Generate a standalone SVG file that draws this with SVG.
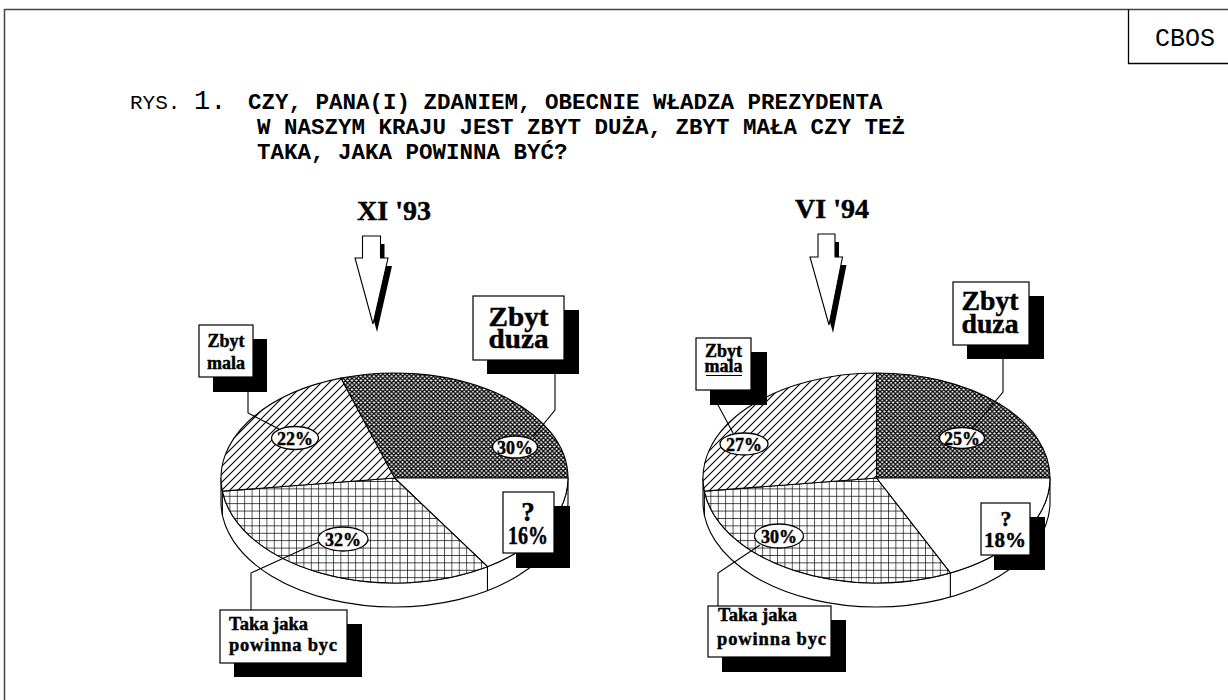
<svg xmlns="http://www.w3.org/2000/svg" width="1228" height="700" viewBox="0 0 1228 700">
<style>
.frame{stroke:#444;stroke-width:1.5;fill:none}
.ttl{font-family:"Liberation Mono","Courier New",monospace;fill:#000}
.b{font-weight:bold}
.serif{font-family:"Liberation Serif","Times New Roman",serif;font-weight:bold;fill:#000;stroke:#000;stroke-width:0.45}
.box{fill:#fff;stroke:#000;stroke-width:1.2}
.sh{fill:#000}
.ln{stroke:#000;stroke-width:1.1;fill:none}
.edge{stroke:#000;stroke-width:1.1}
.pl{fill:#fff;stroke:#000;stroke-width:1.3}
</style>
<defs>
<pattern id="hatch" width="8" height="8" patternUnits="userSpaceOnUse">
<rect width="8" height="8" fill="#fff"/>
<path d="M-2,2 L2,-2 M0,8 L8,0 M6,10 L10,6" stroke="#000" stroke-width="1.1"/>
</pattern>
<pattern id="cross" width="4.4" height="4.4" patternUnits="userSpaceOnUse">
<rect width="4.4" height="4.4" fill="#fff"/>
<path d="M-1.1,1.1 L1.1,-1.1 M0,4.4 L4.4,0 M3.3,5.5 L5.5,3.3 M-1.1,3.3 L1.1,5.5 M0,0 L4.4,4.4 M3.3,-1.1 L5.5,1.1" stroke="#000" stroke-width="1.3"/>
</pattern>
<pattern id="grid" width="7.4" height="7.4" patternUnits="userSpaceOnUse">
<rect width="7.4" height="7.4" fill="#fff"/>
<path d="M0,0 H7.4 M0,0 V7.4" stroke="#000" stroke-width="1.3"/>
</pattern>
</defs>

<g id="frame">
<path class="frame" d="M4.5,700 V9.5 H1228"/>
</g>

<g id="cbos">
<path d="M1128.5,9.5 V63.5 H1228" stroke="#000" stroke-width="1.3" fill="none"/>
<text class="ttl" x="1185" y="46" font-size="25" text-anchor="middle">CBOS</text>
</g>

<g id="title">
<text class="ttl" x="130" y="109" font-size="21">RYS.</text>
<text class="ttl" x="194" y="109" font-size="27">1.</text>
<text class="ttl b" x="248" y="109" font-size="22.5">CZY, PANA(I) ZDANIEM, OBECNIE WŁADZA PREZYDENTA</text>
<text class="ttl b" x="257" y="134" font-size="22.5">W NASZYM KRAJU JEST ZBYT DUŻA, ZBYT MAŁA CZY TEŻ</text>
<text class="ttl b" x="257" y="159" font-size="22.5">TAKA, JAKA POWINNA BYĆ?</text>
</g>

<!-- Chart 1 -->
<g id="chart1">
<text class="serif" x="394" y="220" font-size="28" text-anchor="middle">XI '93</text>
<g id="arrow1">
<polygon class="sh" points="366.5,244 384.5,244 384.5,266 392,266 377,332 359,266 366.5,266"/>
<polygon fill="#fff" stroke="#000" stroke-width="1.1" points="362.5,236 380.5,236 380.5,258 388,258 373,324 355,258 362.5,258"/>
</g>
<g id="pie1">
<path class="edge" fill="#fff" d="M221,478 L221,502 A173.5,105 0 0 0 568,502 L568,478 A173.5,105 0 0 1 221,478 Z"/>
<line class="edge" x1="487.46" y1="566.65" x2="487.46" y2="590.65"/>
<line class="edge" x1="222.37" y1="491.16" x2="222.37" y2="515.16"/>
<path id="p1-duza" class="edge" fill="url(#cross)" d="M394.5,478 L340.89,378.14 A173.5,105 0 0 1 568,478 Z"/>
<path id="p1-q" class="edge" fill="#fff" d="M394.5,478 L568,478 A173.5,105 0 0 1 487.46,566.65 Z"/>
<path id="p1-taka" class="edge" fill="url(#grid)" d="M394.5,478 L487.46,566.65 A173.5,105 0 0 1 222.37,491.16 Z"/>
<path id="p1-mala" class="edge" fill="url(#hatch)" d="M394.5,478 L222.37,491.16 A173.5,105 0 0 1 340.89,378.14 Z"/>
</g>
</g>

<!-- Chart 2 -->
<g id="chart2">
<text class="serif" x="832" y="218" font-size="28" text-anchor="middle">VI '94</text>
<g id="arrow2">
<polygon class="sh" points="822,242 839,242 839,265 846.5,265 833,333 814,265 822,265"/>
<polygon fill="#fff" stroke="#000" stroke-width="1.1" points="818,234 835,234 835,257 842.5,257 829,325 810,257 818,257"/>
</g>
<g id="pie2">
<path class="edge" fill="#fff" d="M703,478 L703,502 A173.5,105 0 0 0 1050,502 L1050,478 A173.5,105 0 0 1 703,478 Z"/>
<line class="edge" x1="950.37" y1="573.01" x2="950.37" y2="597.01"/>
<line class="edge" x1="704.37" y1="491.16" x2="704.37" y2="515.16"/>
<path id="p2-duza" class="edge" fill="url(#cross)" d="M876.5,478 L876.5,373 A173.5,105 0 0 1 1050,478 Z"/>
<path id="p2-q" class="edge" fill="#fff" d="M876.5,478 L1050,478 A173.5,105 0 0 1 950.37,573.01 Z"/>
<path id="p2-taka" class="edge" fill="url(#grid)" d="M876.5,478 L950.37,573.01 A173.5,105 0 0 1 704.37,491.16 Z"/>
<path id="p2-mala" class="edge" fill="url(#hatch)" d="M876.5,478 L704.37,491.16 A173.5,105 0 0 1 876.5,373 Z"/>
</g>
</g>

<g id="connectors">
<polyline class="ln" points="248,377 248,413 279,429"/>
<polyline class="ln" points="555,374 555,410 533,437"/>
<polyline class="ln" points="251,610 251,573 319,542"/>
<polyline class="ln" points="710,390 733,433"/>
<polyline class="ln" points="1003,359 1003,392 972,429"/>
<polyline class="ln" points="718,606 718,573 760,545"/>
</g>

<g id="pct-labels">
<g id="l22"><ellipse class="pl" cx="295" cy="438" rx="23.5" ry="11.5"/><text class="serif" x="295" y="444.5" font-size="18" text-anchor="middle">22%</text></g>
<g id="l30a"><ellipse class="pl" cx="515" cy="447" rx="22.5" ry="11"/><text class="serif" x="515" y="453.5" font-size="18" text-anchor="middle">30%</text></g>
<g id="l32"><ellipse class="pl" cx="343" cy="539" rx="25" ry="12"/><text class="serif" x="343" y="545.5" font-size="18" text-anchor="middle">32%</text></g>
<g id="l27"><ellipse class="pl" cx="744" cy="444" rx="24" ry="11"/><text class="serif" x="744" y="450.5" font-size="18" text-anchor="middle">27%</text></g>
<g id="l25"><ellipse class="pl" cx="962" cy="438" rx="22.5" ry="10.5"/><text class="serif" x="962" y="444.5" font-size="18" text-anchor="middle">25%</text></g>
<g id="l30b"><ellipse class="pl" cx="779" cy="536" rx="24.5" ry="12"/><text class="serif" x="779" y="542.5" font-size="18" text-anchor="middle">30%</text></g>
</g>

<g id="zm1">
<rect class="sh" x="213" y="339" width="54" height="53"/>
<rect class="box" x="199" y="325" width="54" height="52"/>
<text class="serif" x="226" y="347" font-size="18" text-anchor="middle">Zbyt</text>
<text class="serif" x="226" y="369" font-size="18" text-anchor="middle">mala</text>
</g>
<g id="zd1">
<rect class="sh" x="487" y="310" width="92" height="64"/>
<rect class="box" x="473" y="296" width="91" height="64"/>
<text class="serif" x="518.5" y="326" font-size="27" text-anchor="middle" textLength="60" lengthAdjust="spacingAndGlyphs">Zbyt</text>
<text class="serif" x="518.5" y="348" font-size="27" text-anchor="middle" textLength="60" lengthAdjust="spacingAndGlyphs">duza</text>
</g>
<g id="tj1">
<rect class="sh" x="234" y="624" width="128" height="53"/>
<rect class="box" x="220" y="610" width="127" height="53"/>
<text class="serif" x="229" y="630" font-size="18.5">Taka jaka</text>
<text class="serif" x="229" y="651" font-size="18.5" textLength="108" lengthAdjust="spacing">powinna byc</text>
</g>
<g id="q1">
<rect class="sh" x="516" y="506" width="54" height="62"/>
<rect class="box" x="503" y="492" width="51" height="61"/>
<text class="serif" x="528" y="521" font-size="27" text-anchor="middle">?</text>
<text class="serif" x="528" y="544" font-size="25" text-anchor="middle" textLength="40" lengthAdjust="spacingAndGlyphs">16%</text>
</g>

<g id="zm2">
<rect class="sh" x="710" y="352" width="57" height="53"/>
<rect class="box" x="696" y="338" width="55" height="52"/>
<text class="serif" x="723.5" y="357" font-size="18" text-anchor="middle">Zbyt</text>
<text class="serif" x="723.5" y="372" font-size="18" text-anchor="middle">mala</text>
<line x1="706" y1="375.5" x2="742" y2="375.5" stroke="#000" stroke-width="1.2"/>
</g>
<g id="zd2">
<rect class="sh" x="967" y="296" width="77" height="63"/>
<rect class="box" x="953" y="282" width="76" height="63"/>
<text class="serif" x="990" y="310" font-size="27" text-anchor="middle" textLength="57" lengthAdjust="spacingAndGlyphs">Zbyt</text>
<text class="serif" x="990" y="333" font-size="27" text-anchor="middle" textLength="57" lengthAdjust="spacingAndGlyphs">duza</text>
</g>
<g id="tj2">
<rect class="sh" x="722" y="620" width="124" height="52"/>
<rect class="box" x="708" y="606" width="123" height="51"/>
<text class="serif" x="718" y="621" font-size="18.5">Taka jaka</text>
<text class="serif" x="717" y="645" font-size="18.5" textLength="109" lengthAdjust="spacing">powinna byc</text>
</g>
<g id="q2">
<rect class="sh" x="994" y="517" width="51" height="53"/>
<rect class="box" x="981" y="503" width="49" height="52"/>
<text class="serif" x="1006" y="526" font-size="22" text-anchor="middle">?</text>
<text class="serif" x="1005" y="547" font-size="21" text-anchor="middle">18%</text>
</g>
</svg>
